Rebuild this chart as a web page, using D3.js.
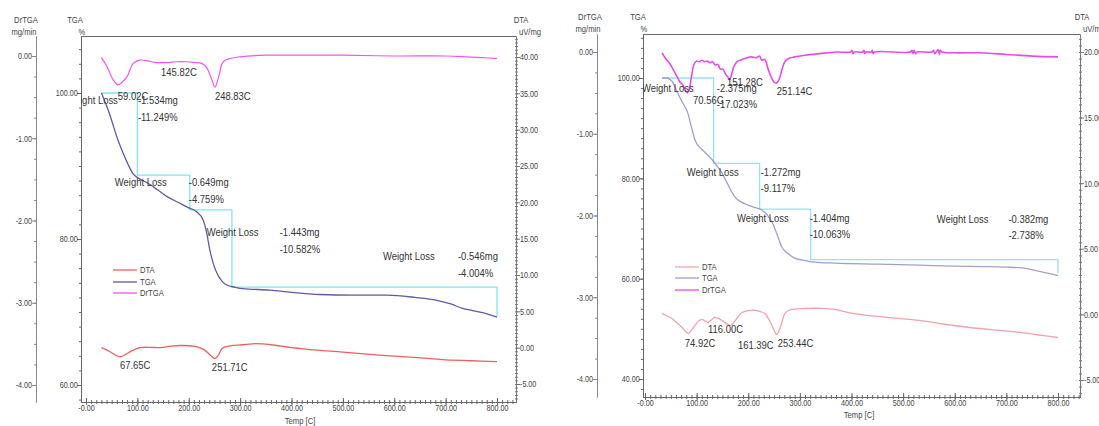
<!DOCTYPE html>
<html><head><meta charset="utf-8">
<script src="https://cdn.jsdelivr.net/npm/d3@7"></script>
<style>body{margin:0;background:#fff} svg{display:block} text{font-family:"Liberation Sans",Arial,sans-serif}</style>
</head><body>
<svg id="c" width="1099" height="426"></svg>
<script>
// ---------------- DATA ----------------
const tempTicks = [0,100,200,300,400,500,600,700,800];
const tempTickLabels = ["-0.00","100.00","200.00","300.00","400.00","500.00","600.00","700.00","800.00"];
const drtgaTicks = [0,-1,-2,-3,-4];
const drtgaTickLabels = ["0.00","-1.00","-2.00","-3.00","-4.00"];
const leftTgaTicks = [100,80,60];
const leftTgaTickLabels = ["100.00","80.00","60.00"];
const rightTgaTicks = [100,80,60,40];
const rightTgaTickLabels = ["100.00","80.00","60.00","40.00"];
const leftDtaTicks = [40,35,30,25,20,15,10,5,0,-5];
const leftDtaTickLabels = ["40.00","35.00","30.00","25.00","20.00","15.00","10.00","5.00","0.00","-5.00"];
const rightDtaTicks = [20,15,10,5,0,-5];
const rightDtaTickLabels = ["20.00","15.00","10.00","5.00","0.00","-5.00"];
const legendNames = ["DTA","TGA","DrTGA"];

// left sample: [temp °C, value]
const leftDrTGA = [[30,-0.02],[41,-0.13],[53,-0.29],[62,-0.35],[70,-0.32],[80,-0.25],[92,-0.09],[105,-0.05],[120,-0.06],[135,-0.08],[146,-0.08],[160,-0.08],[175,-0.07],[195,-0.07],[212,-0.08],[225,-0.09],[235,-0.14],[245,-0.29],[251,-0.38],[258,-0.26],[267,-0.07],[280,-0.03],[300,-0.01],[350,0.01],[420,0.01],[500,0.01],[600,0.0],[700,0.0],[740,-0.01],[770,-0.02],[800,-0.03]];
const leftTGA = [[30,100.0],[45,97.3],[62,93.6],[72,91.8],[82,90.2],[91,89.0],[105,88.2],[119,87.7],[140,86.7],[158,85.8],[180,85.0],[196,84.4],[216,83.7],[228,82.6],[235,80.8],[241,78.5],[248,76.6],[255,75.3],[265,74.2],[274,73.7],[290,73.4],[305,73.2],[358,73.0],[400,72.7],[455,72.4],[520,72.3],[586,72.3],[640,72.0],[683,71.6],[710,71.1],[733,70.5],[752,70.2],[772,69.9],[800,69.3]];
const leftDTA = [[30,0.0],[40,-0.3],[50,-0.7],[60,-1.1],[67,-1.25],[78,-0.9],[90,-0.4],[105,0.0],[125,0.05],[145,0.0],[165,0.2],[185,0.3],[210,0.2],[228,-0.2],[240,-0.9],[251,-1.5],[258,-1.0],[265,-0.1],[280,0.25],[305,0.4],[330,0.55],[360,0.4],[400,0.0],[450,-0.35],[500,-0.6],[585,-1.1],[650,-1.4],[694,-1.65],[750,-1.8],[800,-1.93]];

// right sample
const rightDrTGA = [[33,-0.01],[40,-0.08],[48,-0.14],[55,-0.22],[62,-0.30],[68,-0.37],[73,-0.40],[78,-0.47],[82,-0.50],[86,-0.45],[90,-0.30],[95,-0.15],[100,-0.11],[105,-0.12],[110,-0.10],[115,-0.12],[120,-0.11],[126,-0.13],[131,-0.12],[136,-0.16],[141,-0.15],[146,-0.21],[151,-0.21],[156,-0.27],[160,-0.30],[164,-0.34],[168,-0.27],[172,-0.18],[178,-0.12],[185,-0.10],[193,-0.08],[205,-0.06],[215,-0.07],[222,-0.05],[226,-0.10],[232,-0.09],[238,-0.20],[244,-0.30],[250,-0.37],[255,-0.38],[260,-0.33],[265,-0.22],[270,-0.13],[278,-0.08],[290,-0.06],[310,-0.04],[338,-0.02],[370,0.0],[398,0.0],[401,0.02],[403,-0.02],[406,0.0],[422,0.0],[424,0.02],[426,-0.02],[428,0.0],[438,0.0],[440,0.02],[442,-0.02],[444,0.0],[514,0.0],[517,0.02],[519,-0.02],[521,0.02],[524,-0.02],[527,0.0],[556,0.0],[559,0.02],[561,-0.02],[564,0.0],[568,0.03],[570,-0.03],[572,0.02],[575,0.0],[600,-0.01],[650,-0.01],[700,-0.03],[750,-0.05],[800,-0.06]];
const rightTGA = [[33,100],[42,100],[52,99.4],[62,97.3],[72,95.2],[83,93.0],[90,90.2],[97,87.6],[110,85.8],[120,84.8],[130,83.7],[140,82.4],[149,81.1],[160,78.9],[174,76.3],[186,75.3],[199,74.7],[212,74.2],[226,73.7],[236,72.8],[246,71.3],[256,68.8],[265,66.3],[277,65.0],[290,64.1],[310,63.6],[329,63.3],[368,63.1],[450,62.9],[532,62.7],[600,62.5],[662,62.4],[700,62.3],[725,62.2],[745,61.9],[758,61.6],[780,61.1],[800,60.6]];
const rightDTA = [[33,0.08],[42,-0.1],[52,-0.31],[62,-0.65],[72,-1.0],[80,-1.35],[84,-1.45],[90,-1.2],[97,-0.84],[104,-0.5],[110,-0.38],[116,-0.5],[122,-0.61],[128,-0.45],[135,-0.23],[142,-0.3],[149,-0.46],[158,-0.7],[166,-0.84],[172,-0.6],[180,-0.2],[188,0.15],[200,0.28],[213,0.31],[225,0.2],[233,0.05],[240,-0.4],[246,-0.84],[251,-1.3],[255,-1.53],[260,-1.2],[266,-0.5],[271,0.08],[278,0.3],[284,0.38],[310,0.45],[342,0.46],[368,0.38],[402,0.08],[450,-0.15],[532,-0.46],[580,-0.75],[629,-1.0],[680,-1.2],[725,-1.37],[760,-1.55],[800,-1.76]];

// weight-loss steps
const leftStepTemps = [30,100,202,284,800];
const leftStepLevels = [100,88.751,83.992,73.410,69.406];
const leftLossMg = ["-1.534mg","-0.649mg","-1.443mg","-0.546mg"];
const leftLossPct = ["-11.249%","-4.759%","-10.582%","-4.004%"];
const rightStepTemps = [33,133,222,321,800];
const rightStepLevels = [100,82.977,73.860,63.797,61.059];
const rightLossMg = ["-2.375mg","-1.272mg","-1.404mg","-0.382mg"];
const rightLossPct = ["-17.023%","-9.117%","-10.063%","-2.738%"];

// peak labels
const leftDrtgaPeaks = ["59.02C","145.82C","248.83C"];
const leftDtaPeaks = ["67.65C","251.71C"];
const rightDrtgaPeaks = ["70.56C","151.28C","251.14C"];
const rightDtaPeaks = ["74.92C","116.00C","161.39C","253.44C"];

// ---------------- LAYOUT ----------------
const LEFT = {
  frame:{x0:81,x1:516,y0:36,y1:402}, xRange:[86,497],
  drX:36, drRange:[56,385], tgaDom:[100,60], tgaRange:[93,385], dtaDom:[40,-5], dtaRange:[57,384],
  titleY:[23,35], drTitleDx:-10, tgaTitleDx:-6, dtaTitleDx:5,
  xTitle:[300,424],
  c:{dta:"#ef5f5f", tga:"#5d5aa6", dr:"#ef55ef", step:"#7fe6ee"},
  legend:{x:113,y:[270,282,293]},
  loss:{name:[[62,98.5,"end"],[56,87.3,"start"],[235,80.4,"start"],[578,77.1,"start"]], valT:[101,200,377,724], rowDy:17},
  drPeaks:leftDrtgaPeaks, drPeakAt:[[62,-0.535],[146,-0.243],[251,-0.535]],
  dtaPeaks:leftDtaPeaks, dtaPeakAt:[[66,-2.9],[245,-3.15]],
  tgaTicks:leftTgaTicks, tgaLabels:leftTgaTickLabels, dtaTicks:leftDtaTicks, dtaLabels:leftDtaTickLabels,
  dr:leftDrTGA, tga:leftTGA, dta:leftDTA, stepT:leftStepTemps, stepV:leftStepLevels, mg:leftLossMg, pct:leftLossPct,
  drW:1.2
};
const RIGHT = {
  frame:{x0:643,x1:1080,y0:34,y1:397}, xRange:[645,1058],
  drX:597, drRange:[52,379], tgaDom:[100,40], tgaRange:[78,379], dtaDom:[20,-5], dtaRange:[52,380],
  titleY:[20,32], drTitleDx:-7, tgaTitleDx:-5, dtaTitleDx:2,
  xTitle:[859,418],
  c:{dta:"#f0a3ab", tga:"#a29ecd", dr:"#e84ae8", step:"#98e2ee"},
  legend:{x:675,y:[267,278,290]},
  loss:{name:[[-6,97.2,"start"],[81,80.5,"start"],[178,71.3,"start"],[565,71.1,"start"]], valT:[139,224,319,704], rowDy:16},
  drPeaks:rightDrtgaPeaks, drPeakAt:[[93,-0.64],[159,-0.42],[255,-0.53]],
  dtaPeaks:rightDtaPeaks, dtaPeakAt:[[77,-2.5],[122,-1.45],[180,-2.67],[257,-2.5]],
  tgaTicks:rightTgaTicks, tgaLabels:rightTgaTickLabels, dtaTicks:rightDtaTicks, dtaLabels:rightDtaTickLabels,
  dr:rightDrTGA, tga:rightTGA, dta:rightDTA, stepT:rightStepTemps, stepV:rightStepLevels, mg:rightLossMg, pct:rightLossPct,
  drW:1.6
};

const svg = d3.select('#c');
function ext(dom, rng, p0, p1){ const s=d3.scaleLinear().domain(dom).range(rng); return d3.scaleLinear().domain([s.invert(p0), s.invert(p1)]).range([p0,p1]); }
function txt(g, x, y, s, o={}){
  return g.append('text').attr('transform',`translate(${x},${y}) scale(${o.sx||0.86},1)`)
    .attr('font-size',o.fs||11).attr('text-anchor',o.anchor||'start').attr('fill',o.fill||'#333').text(s);
}
function minor(scale, step){ const [a,b]=d3.extent(scale.domain()); return d3.range(Math.ceil(a/step)*step, b+1e-9, step); }
function styleAxis(sel, col){
  sel.select('.domain').attr('stroke',col);
  sel.selectAll('.tick line').attr('stroke',col);
  sel.selectAll('.tick text').attr('font-size',9).attr('fill','#444').attr('transform','scale(0.8,1)');
}
let pid=0;
function panel(P){
  const F=P.frame, g=svg.append('g');
  const x = ext([0,800], P.xRange, F.x0, F.x1);
  const yDr = ext([0,-4], P.drRange, F.y0, F.y1);
  const yT = ext(P.tgaDom, P.tgaRange, F.y0, F.y1);
  const yD = ext(P.dtaDom, P.dtaRange, F.y0, F.y1);
  const cid='clip'+(pid++);
  g.append('clipPath').attr('id',cid).append('rect').attr('x',F.x0).attr('y',F.y0).attr('width',F.x1-F.x0).attr('height',F.y1-F.y0);

  g.append('line').attr('x1',F.x0).attr('x2',F.x1).attr('y1',F.y0+0.5).attr('y2',F.y0+0.5).attr('stroke','#6a6a6a');

  const aDrMin = g.append('g').attr('transform',`translate(${P.drX},0)`).call(d3.axisLeft(yDr).tickValues(minor(yDr,0.25)).tickFormat('').tickSize(2).tickSizeOuter(0));
  styleAxis(aDrMin,'#888');
  const aDr = g.append('g').attr('transform',`translate(${P.drX},0)`).call(d3.axisLeft(yDr).tickValues(drtgaTicks).tickFormat((d,i)=>drtgaTickLabels[i]).tickSize(4).tickPadding(1).tickSizeOuter(0));
  styleAxis(aDr,'#888');
  const aTMin = g.append('g').attr('transform',`translate(${F.x0},0)`).call(d3.axisLeft(yT).tickValues(minor(yT,2)).tickFormat('').tickSize(2).tickSizeOuter(0));
  styleAxis(aTMin,'#666');
  const aT = g.append('g').attr('transform',`translate(${F.x0},0)`).call(d3.axisLeft(yT).tickValues(P.tgaTicks).tickFormat((d,i)=>P.tgaLabels[i]).tickSize(4).tickPadding(0).tickSizeOuter(0));
  styleAxis(aT,'#666');
  const aDMin = g.append('g').attr('transform',`translate(${F.x1},0)`).call(d3.axisRight(yD).tickValues(minor(yD,0.5)).tickFormat('').tickSize(2).tickSizeOuter(0));
  styleAxis(aDMin,'#777');
  aDMin.selectAll('.tick line').attr('x1',-1);
  const aD = g.append('g').attr('transform',`translate(${F.x1},0)`).call(d3.axisRight(yD).tickValues(P.dtaTicks).tickFormat((d,i)=>P.dtaLabels[i]).tickSize(4).tickPadding(1).tickSizeOuter(0));
  styleAxis(aD,'#777');
  const aXMin = g.append('g').attr('transform',`translate(0,${F.y1})`).call(d3.axisBottom(x).tickValues(minor(x,10)).tickFormat('').tickSize(2).tickSizeOuter(0));
  styleAxis(aXMin,'#666');
  aXMin.selectAll('.tick line').attr('y1',-2);
  const aX = g.append('g').attr('transform',`translate(0,${F.y1})`).call(d3.axisBottom(x).tickValues(tempTicks).tickFormat((d,i)=>tempTickLabels[i]).tickSize(-4).tickPadding(3).tickSizeOuter(0));
  styleAxis(aX,'#666');
  aX.selectAll('.tick line').attr('y1',3);

  const tf={fs:9,sx:0.85,fill:'#444',anchor:'middle'};
  txt(g,P.drX+P.drTitleDx,P.titleY[0],'DrTGA',tf);
  txt(g,P.drX+P.drTitleDx-2,P.titleY[1],'mg/min',tf);
  txt(g,F.x0+P.tgaTitleDx,P.titleY[0],'TGA',tf);
  txt(g,F.x0+1,P.titleY[1],'%',tf);
  txt(g,F.x1+P.dtaTitleDx,P.titleY[0],'DTA',tf);
  txt(g,F.x1+3,P.titleY[1],'uV/mg',{fs:9,sx:0.85,fill:'#444'});
  txt(g,P.xTitle[0],P.xTitle[1],'Temp  [C]',tf);

  const stepPts=[[P.stepT[0],P.stepV[0]]];
  for(let i=0;i<P.stepT.length-1;i++){ stepPts.push([P.stepT[i+1],P.stepV[i]]); stepPts.push([P.stepT[i+1],P.stepV[i+1]]); }
  g.append('path').datum(stepPts).attr('fill','none').attr('stroke',P.c.step).attr('stroke-width',1.3)
    .attr('d',d3.line().x(d=>x(d[0])).y(d=>yT(d[1])));

  const cp = g.append('g').attr('clip-path',`url(#${cid})`);
  cp.append('path').datum(P.dta).attr('fill','none').attr('stroke',P.c.dta).attr('stroke-width',1.3)
    .attr('d',d3.line().x(d=>x(d[0])).y(d=>yD(d[1])).curve(d3.curveCatmullRom));
  cp.append('path').datum(P.tga).attr('fill','none').attr('stroke',P.c.tga).attr('stroke-width',1.3)
    .attr('d',d3.line().x(d=>x(d[0])).y(d=>yT(d[1])).curve(d3.curveMonotoneX));
  cp.append('path').datum(P.dr).attr('fill','none').attr('stroke',P.c.dr).attr('stroke-width',P.drW)
    .attr('d',d3.line().x(d=>x(d[0])).y(d=>yDr(d[1])).curve(d3.curveCatmullRom));

  const tg = g.append('g').attr('clip-path',`url(#${cid})`);
  P.loss.name.forEach((n,i)=>{
    const by=yT(n[1]);
    txt(tg,x(n[0]),by,'Weight Loss',{anchor:n[2]});
    txt(tg,x(P.loss.valT[i]),by,P.mg[i]);
    txt(tg,x(P.loss.valT[i]),by+P.loss.rowDy,P.pct[i]);
  });
  P.drPeaks.forEach((s,i)=>txt(tg,x(P.drPeakAt[i][0]),yDr(P.drPeakAt[i][1]),s));
  P.dtaPeaks.forEach((s,i)=>txt(tg,x(P.dtaPeakAt[i][0]),yD(P.dtaPeakAt[i][1]),s));

  const lc=[P.c.dta,P.c.tga,P.c.dr];
  legendNames.forEach((n,i)=>{
    const yy=P.legend.y[i];
    g.append('line').attr('x1',P.legend.x).attr('x2',P.legend.x+24).attr('y1',yy).attr('y2',yy).attr('stroke',lc[i]).attr('stroke-width',1.3);
    txt(g,P.legend.x+27,yy+3,n,{fs:9,sx:0.85,fill:'#444'});
  });
}
panel(LEFT);
panel(RIGHT);
</script>
</body></html>
